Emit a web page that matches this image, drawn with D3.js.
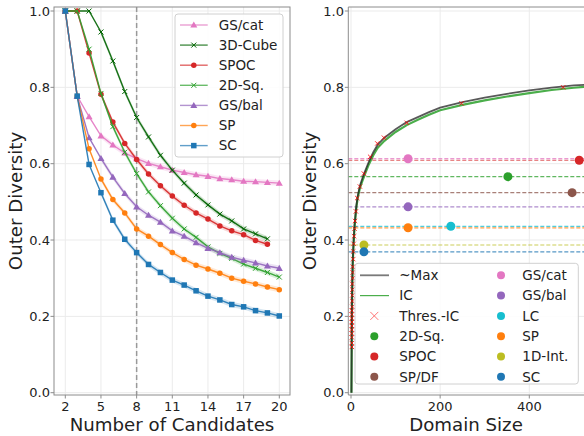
<!DOCTYPE html>
<html><head><meta charset="utf-8">
<script src="https://cdn.jsdelivr.net/npm/d3@7/dist/d3.min.js"></script>
<style>body{margin:0;background:#fff}svg{display:block;font-family:"DejaVu Sans",sans-serif}</style>
</head><body><svg id="c" width="584" height="436"></svg>
<script>
// ---------- Left panel data ----------
const candidates = [2,3,4,5,6,7,8,9,10,11,12,13,14,15,16,17,18,19,20];
const xTicksLeft = [2,5,8,11,14,17,20];
const yTicks = [0.0,0.2,0.4,0.6,0.8,1.0];
const leftNames = ["GS/cat","3D-Cube","SPOC","2D-Sq.","GS/bal","SP","SC"];
const leftColors = ["#e377c2","#006400","#d62728","#2ca02c","#9467bd","#ff7f0e","#1f77b4"];
const leftMarkers = ["triangle","x","circle","x","triangle","circle","square"];
const gsCat  = [1.0,0.777,0.723,0.673,0.649,0.628,0.613,0.601,0.592,0.583,0.577,0.571,0.567,0.561,0.558,0.554,0.553,0.551,0.549];
const cube3d = [1.0,1.0,1.0,0.945,0.869,0.789,0.721,0.670,0.622,0.583,0.549,0.518,0.492,0.468,0.450,0.429,0.416,0.403];
const spoc   = [1.0,1.0,0.890,0.782,0.709,0.653,0.611,0.573,0.542,0.515,0.491,0.471,0.455,0.437,0.424,0.414,0.399,0.389];
const sq2d   = [1.0,1.0,0.900,0.784,0.697,0.630,0.574,0.526,0.490,0.457,0.429,0.407,0.382,0.365,0.352,0.337,0.326,0.315,0.303];
const gsBal  = [1.0,0.777,0.668,0.614,0.565,0.522,0.487,0.465,0.447,0.424,0.410,0.393,0.378,0.367,0.355,0.347,0.340,0.332,0.326];
const sp     = [1.0,0.777,0.639,0.560,0.506,0.471,0.429,0.410,0.388,0.367,0.349,0.334,0.324,0.313,0.300,0.292,0.285,0.277,0.270];
const sc     = [1.0,0.777,0.598,0.524,0.452,0.402,0.367,0.336,0.315,0.295,0.282,0.267,0.253,0.243,0.231,0.225,0.215,0.209,0.201];
const leftSeries = [gsCat,cube3d,spoc,sq2d,gsBal,sp,sc];
const markedCandidates = 8;

// ---------- Right panel data ----------
const xTicksRight = [0,200,400];
const maxD = [1,2,3,4,5,6,8,10,12,15,20,25,30,40,50,60,75,100,125,150,175,200,250,300,350,400,450,500,540];
const maxV = [0.0,0.22,0.30,0.345,0.375,0.40,0.44,0.465,0.49,0.515,0.542,0.56,0.576,0.605,0.63,0.65,0.668,0.69,0.709,0.722,0.735,0.747,0.761,0.773,0.783,0.792,0.799,0.805,0.808];
const icV  = [0.0,0.21,0.29,0.34,0.37,0.395,0.435,0.46,0.485,0.51,0.536,0.553,0.569,0.598,0.622,0.642,0.66,0.683,0.701,0.715,0.728,0.740,0.754,0.766,0.776,0.785,0.793,0.799,0.803];
const thresD = [2,2,2,2,2,2,2,2,2,2,3,3,3,3,3,4,4,4,5,5,6,7,8,9,11,14,20,29,43,59,74,125,248,476];
const thresV = [0.12,0.13,0.145,0.155,0.165,0.175,0.185,0.195,0.205,0.215,0.225,0.24,0.255,0.27,0.285,0.30,0.315,0.33,0.35,0.37,0.39,0.41,0.43,0.45,0.475,0.51,0.54,0.574,0.618,0.653,0.668,0.707,0.758,0.80];
const ptNames  = ["2D-Sq.","SPOC","SP/DF","GS/cat","GS/bal","LC","SP","1D-Int.","SC"];
const ptColors = ["#2ca02c","#d62728","#8c564b","#e377c2","#9467bd","#17becf","#ff7f0e","#bcbd22","#1f77b4"];
const ptDomain = [352,512,496,128,128,224,128,29,29];
const ptValue  = [0.566,0.609,0.524,0.613,0.487,0.436,0.432,0.387,0.369];

const svg = d3.select("#c");
const spineCol = "#8c8c8c", gridCol = "#ebebeb", txt = "#222";

// ---------- Left panel ----------
const L = {x0:54, x1:290, y0:7, y1:395};
const xL = d3.scaleLinear().domain([2,20]).range([65.3,279.3]);
const y = d3.scaleLinear().domain([0,1]).range([392.7,11]);

const gL = svg.append("g");
xTicksLeft.forEach(t=>gL.append("line").attr("x1",xL(t)).attr("x2",xL(t)).attr("y1",L.y0).attr("y2",L.y1).attr("stroke",gridCol));
yTicks.forEach(t=>gL.append("line").attr("x1",L.x0).attr("x2",L.x1).attr("y1",y(t)).attr("y2",y(t)).attr("stroke",gridCol));
gL.append("line").attr("x1",xL(markedCandidates)).attr("x2",xL(markedCandidates)).attr("y1",L.y0).attr("y2",L.y1)
  .attr("stroke","#999").attr("stroke-width",1.5).attr("stroke-dasharray","5,3");

function drawMarker(g, type, cx, cy, color, s){
  if(type==="circle") g.append("circle").attr("cx",cx).attr("cy",cy).attr("r",s*0.55).attr("fill",color);
  else if(type==="square") g.append("rect").attr("x",cx-s*0.55).attr("y",cy-s*0.55).attr("width",s*1.1).attr("height",s*1.1).attr("fill",color);
  else if(type==="triangle") g.append("path").attr("d",d3.symbol(d3.symbolTriangle, s*s*0.85)()).attr("transform",`translate(${cx},${cy+0.6})`).attr("fill",color);
  else if(type==="x") g.append("path").attr("d",`M${cx-s/2},${cy-s/2}L${cx+s/2},${cy+s/2}M${cx-s/2},${cy+s/2}L${cx+s/2},${cy-s/2}`).attr("stroke",color).attr("stroke-width",1);
}

const lineL = d3.line().x((d,i)=>xL(candidates[i])).y(d=>y(d));
leftSeries.forEach((s,k)=>{
  const col = leftColors[k];
  gL.append("path").datum(s.slice(3)).attr("d",d3.area().x((d,i)=>xL(candidates[i+3])).y0(d=>y(d-0.007)).y1(d=>y(d+0.007))).attr("fill",col).attr("opacity",0.18);
  gL.append("path").datum(s).attr("d",lineL).attr("fill","none").attr("stroke",col).attr("stroke-width",1.4).attr("opacity",0.9);
  s.forEach((v,i)=>drawMarker(gL,leftMarkers[k],xL(candidates[i]),y(v),col,5));
});

gL.append("rect").attr("x",L.x0).attr("y",L.y0).attr("width",L.x1-L.x0).attr("height",L.y1-L.y0).attr("fill","none").attr("stroke",spineCol).attr("stroke-width",1);
xTicksLeft.forEach(t=>{
  gL.append("line").attr("x1",xL(t)).attr("x2",xL(t)).attr("y1",L.y1).attr("y2",L.y1+3.5).attr("stroke",spineCol);
  gL.append("text").attr("x",xL(t)).attr("y",410.8).attr("text-anchor","middle").attr("font-size",13).attr("fill",txt).text(t);
});
yTicks.forEach(t=>{
  gL.append("line").attr("x1",L.x0-3.5).attr("x2",L.x0).attr("y1",y(t)).attr("y2",y(t)).attr("stroke",spineCol);
  gL.append("text").attr("x",50).attr("y",y(t)).attr("dy","0.36em").attr("text-anchor","end").attr("font-size",13).attr("fill",txt).text(t.toFixed(1));
});
gL.append("text").attr("x",172).attr("y",430.5).attr("text-anchor","middle").attr("font-size",18.2).attr("fill",txt).text("Number of Candidates");
gL.append("text").attr("transform","translate(22,201) rotate(-90)").attr("text-anchor","middle").attr("font-size",18.2).attr("fill",txt).text("Outer Diversity");

// left legend
const lg = gL.append("g");
lg.append("rect").attr("x",175).attr("y",14).attr("width",108).attr("height",143).attr("rx",3).attr("fill","#fff").attr("fill-opacity",0.85).attr("stroke","#d0d0d0");
leftNames.forEach((n,k)=>{
  const yy = 25 + k*20.1;
  lg.append("line").attr("x1",180).attr("x2",207.7).attr("y1",yy).attr("y2",yy).attr("stroke",leftColors[k]).attr("stroke-width",1.4).attr("opacity",0.7);
  drawMarker(lg,leftMarkers[k],193.8,yy,leftColors[k],5);
  lg.append("text").attr("x",218.7).attr("y",yy).attr("dy","0.36em").attr("font-size",13.5).attr("fill",txt).text(n);
});

// ---------- Right panel ----------
const R = {x0:348.3, x1:640, y0:7, y1:395};
const xR = d3.scaleLinear().domain([0,400]).range([351,529.3]);
const gR = svg.append("g");
svg.append("clipPath").attr("id","clipR").append("rect").attr("x",R.x0).attr("y",R.y0).attr("width",R.x1-R.x0).attr("height",R.y1-R.y0);
xTicksRight.forEach(t=>gR.append("line").attr("x1",xR(t)).attr("x2",xR(t)).attr("y1",R.y0).attr("y2",R.y1).attr("stroke",gridCol));
yTicks.forEach(t=>gR.append("line").attr("x1",R.x0).attr("x2",R.x1).attr("y1",y(t)).attr("y2",y(t)).attr("stroke",gridCol));
const pR = gR.append("g").attr("clip-path","url(#clipR)");
ptValue.forEach((v,k)=>{
  pR.append("line").attr("x1",R.x0).attr("x2",R.x1).attr("y1",y(v)).attr("y2",y(v)).attr("stroke",ptColors[k]).attr("stroke-width",1.2).attr("stroke-dasharray","4,2").attr("opacity",0.75);
});
const lineR = d3.line().x((d,i)=>xR(maxD[i])).y(d=>y(d));
pR.append("path").datum(icV).attr("d",lineR).attr("fill","none").attr("stroke","#2ca02c").attr("stroke-width",2.2).attr("opacity",0.85);
pR.append("path").datum(maxV).attr("d",lineR).attr("fill","none").attr("stroke","#222").attr("stroke-width",1.8).attr("opacity",0.75);
thresV.forEach((v,i)=>{
  const cx = xR(thresD[i]), cy = y(v), s = 2.2;
  pR.append("path").attr("d",`M${cx-s},${cy-s}L${cx+s},${cy+s}M${cx-s},${cy+s}L${cx+s},${cy-s}`).attr("stroke","#ff0000").attr("stroke-width",1).attr("opacity",0.8);
});
ptValue.forEach((v,k)=>{
  pR.append("circle").attr("cx",xR(ptDomain[k])).attr("cy",y(v)).attr("r",4.5).attr("fill",ptColors[k]);
});
gR.append("line").attr("x1",R.x0).attr("x2",R.x1).attr("y1",R.y0).attr("y2",R.y0).attr("stroke",spineCol);
gR.append("line").attr("x1",R.x0).attr("x2",R.x1).attr("y1",R.y1).attr("y2",R.y1).attr("stroke",spineCol);
gR.append("line").attr("x1",R.x0).attr("x2",R.x0).attr("y1",R.y0).attr("y2",R.y1).attr("stroke",spineCol);
xTicksRight.forEach(t=>{
  gR.append("line").attr("x1",xR(t)).attr("x2",xR(t)).attr("y1",R.y1).attr("y2",R.y1+3.5).attr("stroke",spineCol);
  gR.append("text").attr("x",xR(t)).attr("y",410.8).attr("text-anchor","middle").attr("font-size",13).attr("fill",txt).text(t);
});
yTicks.forEach(t=>{
  gR.append("line").attr("x1",R.x0-3.5).attr("x2",R.x0).attr("y1",y(t)).attr("y2",y(t)).attr("stroke",spineCol);
  gR.append("text").attr("x",344).attr("y",y(t)).attr("dy","0.36em").attr("text-anchor","end").attr("font-size",13).attr("fill",txt).text(t.toFixed(1));
});
gR.append("text").attr("x",466).attr("y",430.5).attr("text-anchor","middle").attr("font-size",18.2).attr("fill",txt).text("Domain Size");
gR.append("text").attr("transform","translate(315.5,201) rotate(-90)").attr("text-anchor","middle").attr("font-size",18.2).attr("fill",txt).text("Outer Diversity");

// right legend
const rl = gR.append("g");
rl.append("rect").attr("x",355).attr("y",263.3).attr("width",223.3).attr("height",120.7).attr("rx",3).attr("fill","#fff").attr("fill-opacity",0.85).attr("stroke","#d0d0d0");
const rNames = ["~Max","IC","Thres.-IC"].concat(ptNames);
rNames.forEach((n,k)=>{
  const col = Math.floor(k/6), row = k%6;
  const yy = 275.3 + row*20.3;
  const mx = col===0 ? 374.3 : 501, tx = col===0 ? 399.3 : 522.3;
  if(k===0) rl.append("line").attr("x1",360).attr("x2",389).attr("y1",yy).attr("y2",yy).attr("stroke","#222").attr("stroke-width",1.8).attr("opacity",0.6);
  else if(k===1) rl.append("line").attr("x1",360).attr("x2",389).attr("y1",yy).attr("y2",yy).attr("stroke","#2ca02c").attr("stroke-width",1.2).attr("opacity",0.85);
  else if(k===2) rl.append("path").attr("d",`M${mx-4},${yy-4}L${mx+4},${yy+4}M${mx-4},${yy+4}L${mx+4},${yy-4}`).attr("stroke","#ff0000").attr("stroke-width",0.9).attr("opacity",0.6);
  else rl.append("circle").attr("cx",mx).attr("cy",yy).attr("r",4).attr("fill",ptColors[k-3]);
  rl.append("text").attr("x",tx).attr("y",yy).attr("dy","0.36em").attr("font-size",13.5).attr("fill",txt).text(n);
});
</script></body></html>
